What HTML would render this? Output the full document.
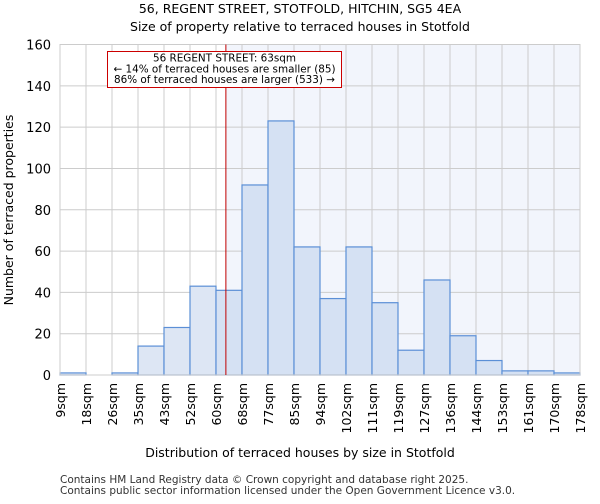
<!DOCTYPE html>
<html><head><meta charset="utf-8"><style>
body{margin:0;background:#fff;font-family:"DejaVu Sans","Liberation Sans",sans-serif;}
</style></head><body>
<svg id="c" width="600" height="500" xmlns="http://www.w3.org/2000/svg" font-family="DejaVu Sans, Liberation Sans, sans-serif">
<text x="300" y="13" text-anchor="middle" font-size="12.5">56, REGENT STREET, STOTFOLD, HITCHIN, SG5 4EA</text>
<text x="300" y="31" text-anchor="middle" font-size="12.5">Size of property relative to terraced houses in Stotfold</text>
<g id="plot"></g>
<text x="300" y="457" text-anchor="middle" font-size="12.5">Distribution of terraced houses by size in Stotfold</text>
<text transform="translate(13,210) rotate(-90)" text-anchor="middle" font-size="12.5">Number of terraced properties</text>
<text x="60" y="483" font-size="10.5" fill="#333">Contains HM Land Registry data © Crown copyright and database right 2025.</text>
<text x="60" y="494" font-size="10.5" fill="#333">Contains public sector information licensed under the Open Government Licence v3.0.</text>
</svg>
<script>
const categories=["9sqm","18sqm","26sqm","35sqm","43sqm","52sqm","60sqm","68sqm","77sqm","85sqm","94sqm","102sqm","111sqm","119sqm","127sqm","136sqm","144sqm","153sqm","161sqm","170sqm","178sqm"];
const counts=[1,0,1,14,23,43,41,92,123,62,37,62,35,12,46,19,7,2,2,1];
const yTicks=[0,20,40,60,80,100,120,140,160];
const markerBin=6.38;
const NS="http://www.w3.org/2000/svg";
const L=60,R=580,T=44.5,B=375,yMax=160;
const bw=(R-L)/counts.length;
const x=i=>L+i*bw;
const y=v=>B-(v/yMax)*(B-T);
const g=document.getElementById('plot');
function mk(t,a){const e=document.createElementNS(NS,t);for(const k in a)e.setAttribute(k,a[k]);g.appendChild(e);return e;}
const mx=x(markerBin);
let e=mk('rect',{x:mx,y:T,width:R-mx,height:B-T,fill:'#f2f5fc'});


for(const t of yTicks){
 e=mk('line',{x1:L,x2:R,y1:y(t),y2:y(t),stroke:'#ccc','stroke-width':1});
 
 
 e=mk('text',{x:L-9,y:y(t)+5,'text-anchor':'end','font-size':'13'});e.textContent=t;
 
 
}
for(let i=0;i<categories.length;i++){
 e=mk('line',{x1:x(i),x2:x(i),y1:T,y2:B,stroke:'#ccc','stroke-width':1});
 
 
 e=mk('text',{transform:`translate(${x(i)+5},${B+8}) rotate(-90)`,'text-anchor':'end','font-size':'12.5'});e.textContent=categories[i];
 
 
}
counts.forEach((v,i)=>{
 const fill=(i+1)<=markerBin?'#dde6f4':'#d5e1f3';
 e=mk('rect',{x:x(i),y:y(v),width:bw,height:B-y(v),fill:fill,stroke:'#5b8fd6','stroke-width':1.2});
 
 
});
e=mk('rect',{x:L,y:T,width:R-L,height:B-T,fill:'none',stroke:'#ccc'});


e=mk('line',{x1:mx,x2:mx,y1:T,y2:B,stroke:'#c00000','stroke-width':1});


e=mk('rect',{x:107.5,y:51.5,width:234,height:36,fill:'#fff',stroke:'#cc0000','stroke-width':1});


const lines=["56 REGENT STREET: 63sqm","← 14% of terraced houses are smaller (85)","86% of terraced houses are larger (533) →"];
lines.forEach((s,i)=>{
 e=mk('text',{x:224.5,y:61.5+i*10.8,'text-anchor':'middle','font-size':'10.4'});e.textContent=s;
 
 
});
</script>
</body></html>
